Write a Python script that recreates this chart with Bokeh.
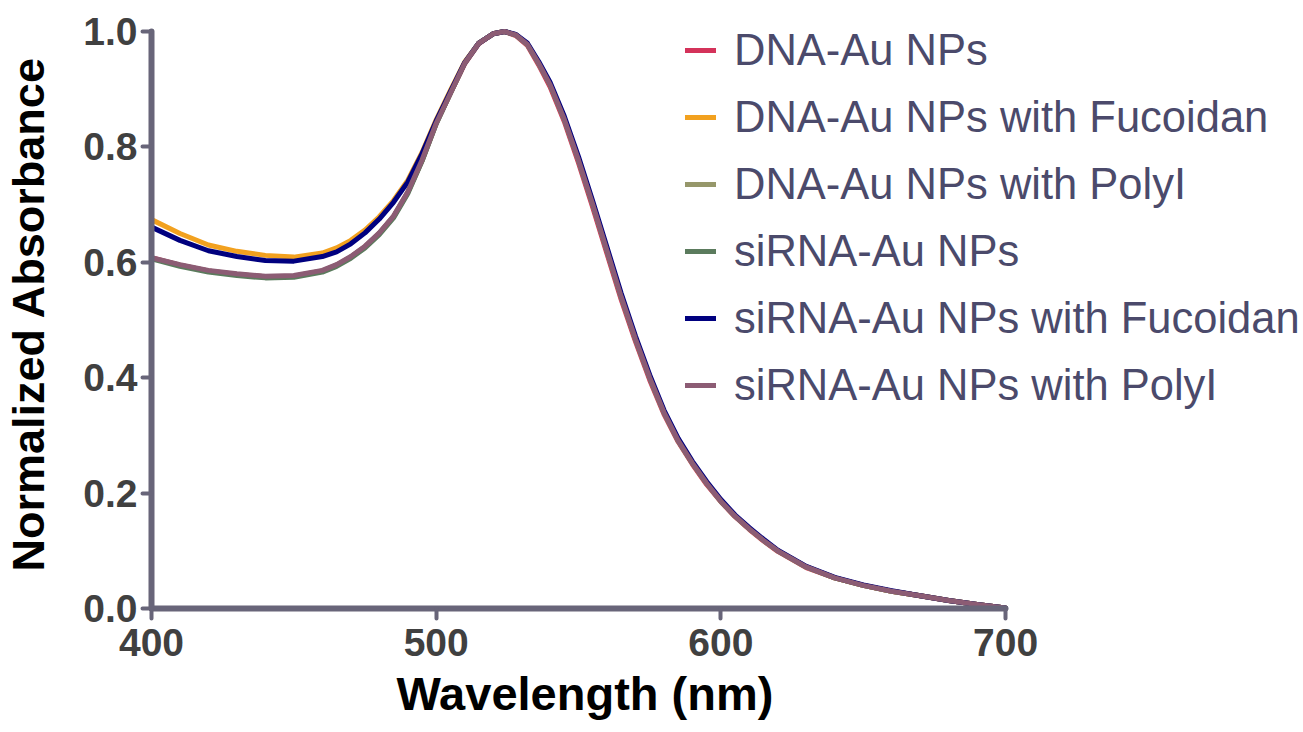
from bokeh.plotting import figure
from bokeh.models import Legend, LegendItem, Range1d, FixedTicker, PrintfTickFormatter, Title
from bokeh.embed import file_html
from bokeh.resources import INLINE

# ---------------- data ----------------
wavelength = [400, 410, 420, 430, 440, 450, 460, 465, 470, 475, 480, 485, 490, 495,
              500, 505, 510, 515, 520, 524, 528, 532, 536, 540,
              545, 550, 555, 560, 565, 570, 575, 580, 585, 590,
              595, 600, 605, 610, 615, 620, 630, 640, 650, 660,
              670, 680, 690, 700]

dna_au = [0.608, 0.595, 0.585, 0.579, 0.575, 0.576, 0.585, 0.595, 0.609, 0.627, 0.650, 0.679, 0.721, 0.776,
          0.841, 0.893, 0.944, 0.979, 0.996, 1.000, 0.993, 0.976, 0.942, 0.904,
          0.844, 0.772, 0.695, 0.615, 0.535, 0.463, 0.396, 0.337, 0.289, 0.250,
          0.215, 0.185, 0.159, 0.137, 0.117, 0.099, 0.071, 0.053, 0.040, 0.030,
          0.022, 0.014, 0.007, 0.001]

dna_au_fucoidan = [0.674, 0.650, 0.630, 0.619, 0.612, 0.609, 0.616, 0.625, 0.638, 0.656, 0.679, 0.707, 0.742, 0.790,
                   0.847, 0.898, 0.947, 0.980, 0.996, 1.000, 0.994, 0.978, 0.945, 0.908,
                   0.848, 0.777, 0.700, 0.620, 0.540, 0.467, 0.400, 0.340, 0.291, 0.252,
                   0.217, 0.186, 0.160, 0.138, 0.118, 0.100, 0.072, 0.053, 0.040, 0.030,
                   0.022, 0.014, 0.007, 0.001]

dna_au_polyi = [0.607, 0.595, 0.585, 0.579, 0.575, 0.576, 0.585, 0.595, 0.609, 0.627, 0.650, 0.679, 0.721, 0.776,
                0.841, 0.893, 0.945, 0.980, 0.996, 1.000, 0.994, 0.978, 0.945, 0.908,
                0.848, 0.777, 0.700, 0.620, 0.540, 0.467, 0.400, 0.340, 0.291, 0.252,
                0.217, 0.186, 0.160, 0.138, 0.118, 0.100, 0.072, 0.053, 0.040, 0.030,
                0.022, 0.014, 0.007, 0.001]

sirna_au = [0.606, 0.593, 0.583, 0.577, 0.573, 0.574, 0.583, 0.593, 0.607, 0.625, 0.648, 0.677, 0.719, 0.775,
            0.840, 0.893, 0.945, 0.980, 0.996, 1.000, 0.994, 0.978, 0.945, 0.908,
            0.848, 0.777, 0.700, 0.620, 0.540, 0.467, 0.400, 0.340, 0.291, 0.252,
            0.217, 0.186, 0.160, 0.138, 0.118, 0.100, 0.072, 0.053, 0.040, 0.030,
            0.022, 0.014, 0.007, 0.001]

sirna_au_fucoidan = [0.661, 0.638, 0.620, 0.610, 0.603, 0.602, 0.610, 0.618, 0.632, 0.651, 0.675, 0.704, 0.739, 0.788,
                     0.845, 0.896, 0.946, 0.980, 0.996, 1.000, 0.995, 0.980, 0.948, 0.912,
                     0.853, 0.783, 0.706, 0.626, 0.546, 0.472, 0.405, 0.344, 0.295, 0.255,
                     0.220, 0.189, 0.162, 0.140, 0.120, 0.101, 0.073, 0.054, 0.041, 0.031,
                     0.022, 0.014, 0.007, 0.001]

sirna_au_polyi = [0.608, 0.596, 0.586, 0.580, 0.576, 0.577, 0.586, 0.596, 0.610, 0.628, 0.651, 0.680, 0.722, 0.777,
                  0.841, 0.893, 0.945, 0.980, 0.996, 1.000, 0.994, 0.978, 0.945, 0.908,
                  0.848, 0.777, 0.700, 0.620, 0.540, 0.467, 0.400, 0.340, 0.291, 0.252,
                  0.217, 0.186, 0.160, 0.138, 0.118, 0.100, 0.072, 0.053, 0.040, 0.030,
                  0.022, 0.014, 0.007, 0.001]

series_names = ["DNA-Au NPs", "DNA-Au NPs with Fucoidan", "DNA-Au NPs with PolyI",
                "siRNA-Au NPs", "siRNA-Au NPs with Fucoidan", "siRNA-Au NPs with PolyI"]
series_values = [dna_au, dna_au_fucoidan, dna_au_polyi, sirna_au, sirna_au_fucoidan, sirna_au_polyi]
series_colors = ["#d4325a", "#f2a11f", "#96976a", "#5b7b5d", "#00007f", "#8c5c74"]

x_ticks = [400, 500, 600, 700]
y_ticks = [0.0, 0.2, 0.4, 0.6, 0.8, 1.0]

# ---------------- figure ----------------
p = figure(width=1300, height=730, output_backend="svg", toolbar_location=None,
           x_range=Range1d(400, 803.6), y_range=Range1d(0, 1.0208),
           min_border=0, min_border_left=151, min_border_right=0,
           min_border_top=19, min_border_bottom=122)
p.outline_line_color = None
p.grid.visible = False
p.background_fill_color = "white"
p.border_fill_color = "white"

axis_color = "#686579"
FONT = "Liberation Sans"

for ax in (p.xaxis[0], p.yaxis[0]):
    ax.axis_line_color = axis_color
    ax.axis_line_width = 6
    ax.axis_line_cap = "round"
    ax.major_tick_line_color = axis_color
    ax.major_tick_line_width = 4
    ax.major_tick_line_cap = "round"
    ax.major_tick_in = 0
    ax.minor_tick_line_color = None
    ax.major_label_text_font = FONT
    ax.major_label_text_font_style = "bold"
    ax.major_label_text_font_size = "39px"
    ax.major_label_text_color = "#404040"
    ax.axis_label_text_font = FONT
    ax.axis_label_text_font_style = "bold"
    ax.axis_label_text_font_size = "45px"
    ax.axis_label_text_color = "#000000"

p.xaxis.bounds = (400, 700)
p.yaxis.bounds = (0, 1)
p.xaxis.ticker = FixedTicker(ticks=x_ticks)
p.yaxis.ticker = FixedTicker(ticks=y_ticks)
p.yaxis.formatter = PrintfTickFormatter(format="%.1f")
p.xaxis.major_tick_out = 10
p.yaxis.major_tick_out = 9
p.xaxis.major_label_standoff = 10
p.yaxis.major_label_standoff = 5
p.xaxis.axis_label = None
p.yaxis.axis_label = "Normalized Absorbance"
p.yaxis.axis_label_standoff = 26

xtitle = Title(text="Wavelength (nm)", align="left", offset=245,
               text_font=FONT, text_font_style="bold", text_font_size="47px",
               text_color="#000000", standoff=12, vertical_align="bottom")
p.add_layout(xtitle, "below")

items = []
for name, vals, col in zip(series_names, series_values, series_colors):
    r = p.line(wavelength, vals, line_color=col, line_width=5,
               line_join="round", line_cap="round")
    items.append(LegendItem(label=name, renderers=[r]))

legend = Legend(items=items, location=(534, 198), orientation="vertical",
                border_line_color=None, background_fill_alpha=0,
                padding=0, margin=0, spacing=17,
                glyph_width=31, glyph_height=50, label_height=50,
                label_standoff=18,
                label_text_font=FONT, label_text_font_size="43.5px",
                label_text_color="#4b4a6b")
p.add_layout(legend)

open("out.html", "w").write(file_html(p, INLINE))
